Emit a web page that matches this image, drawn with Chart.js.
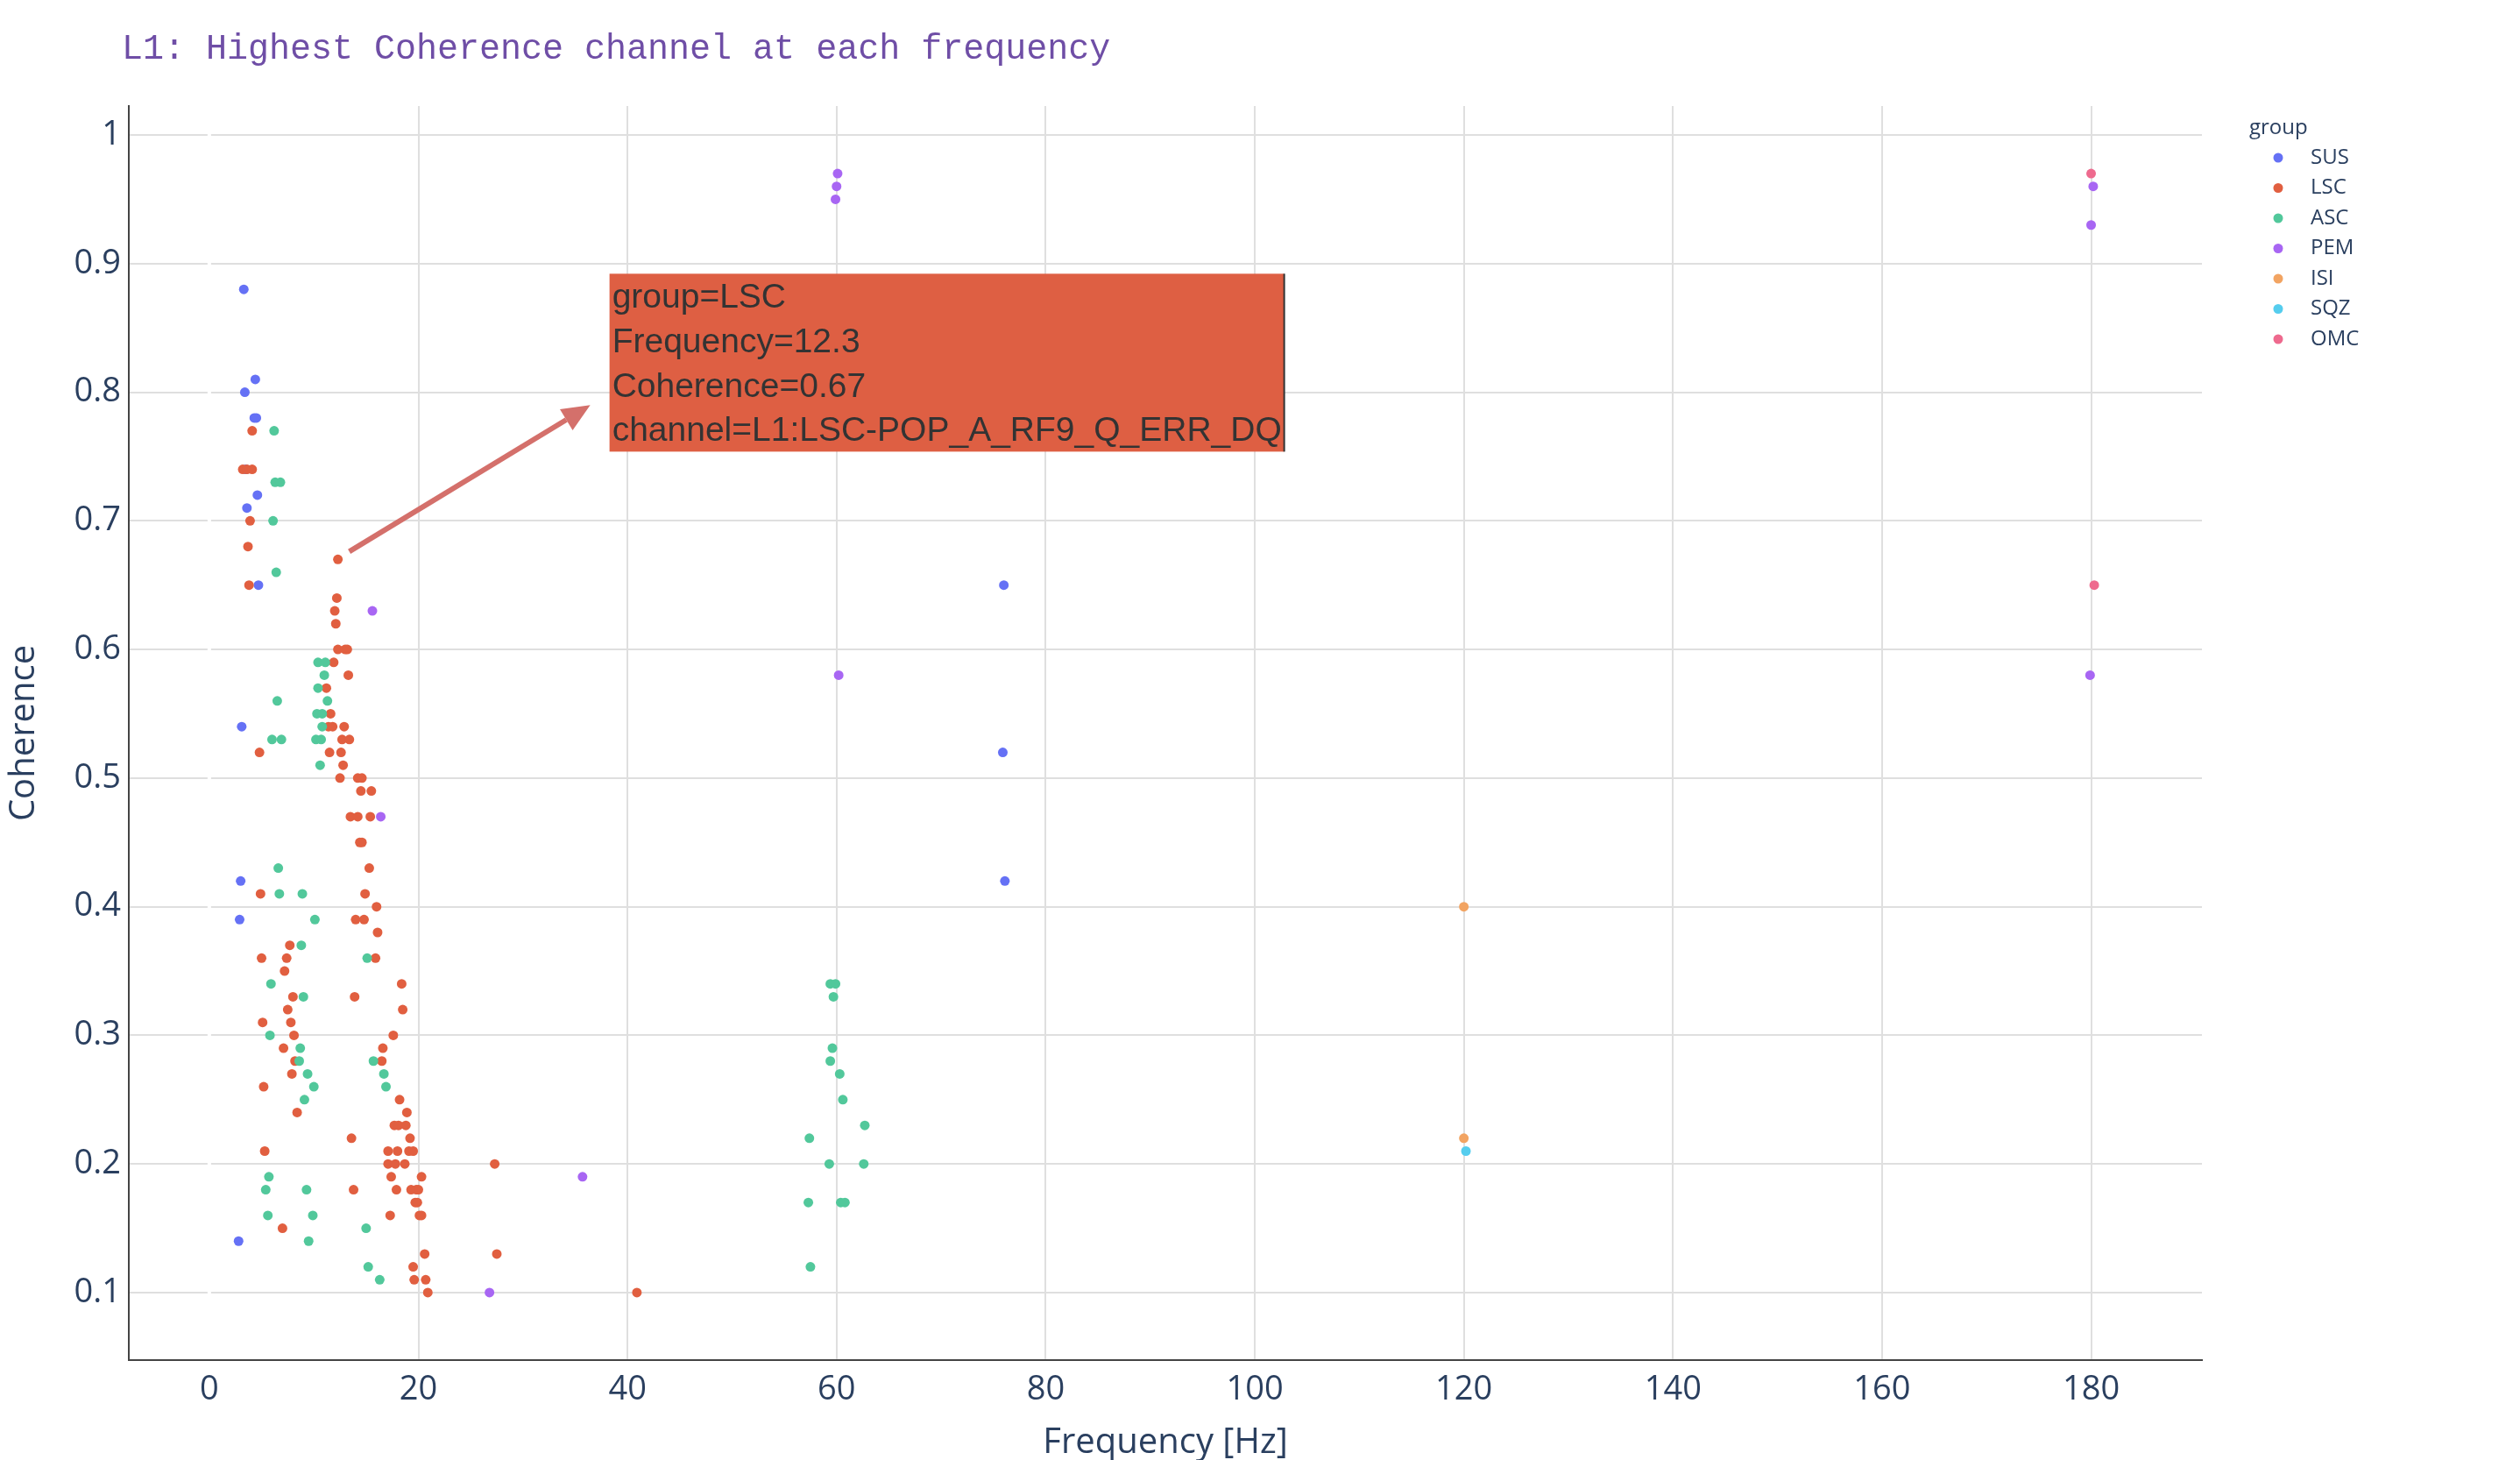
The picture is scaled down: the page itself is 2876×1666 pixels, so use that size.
<!DOCTYPE html>
<html>
<head>
<meta charset="utf-8">
<title>L1: Highest Coherence channel at each frequency</title>
<script src="https://cdn.jsdelivr.net/npm/chart.js@4.4.1/dist/chart.umd.min.js"></script>
<style>
    html, body { margin: 0; padding: 0; background: #fff; }
    #chart { display: block; }
</style>
</head>
<body>
<canvas id="chart" width="2876" height="1666"></canvas>
<script>
// 그룹 이름과 색
const groups = ['SUS', 'LSC', 'ASC', 'PEM', 'ISI', 'SQZ', 'OMC'];
const groupColors = ['#6571f5', '#e15f40', '#52c89b', '#a866f3', '#f2a462', '#55cdee', '#ee6a8e'];

// [Frequency, Coherence]
const susPoints = [
    [3.3, 0.88], [4.4, 0.81], [3.4, 0.80], [4.3, 0.78], [4.5, 0.78], [3.5, 0.74], [4.6, 0.72],
    [3.6, 0.71], [4.7, 0.65], [3.1, 0.54], [3.0, 0.42], [2.9, 0.39], [2.8, 0.14],
    [76.0, 0.65], [75.9, 0.52], [76.1, 0.42]
];
const lscPoints = [
    [4.1, 0.77], [3.2, 0.74], [3.6, 0.74], [4.1, 0.74], [3.9, 0.70], [3.7, 0.68], [12.3, 0.67],
    [3.8, 0.65], [12.2, 0.64], [12.0, 0.63], [12.1, 0.62], [12.3, 0.60], [13.0, 0.60], [13.2, 0.60],
    [11.9, 0.59], [13.3, 0.58], [11.2, 0.57], [11.6, 0.55], [11.4, 0.54], [11.8, 0.54], [12.9, 0.54],
    [12.7, 0.53], [13.4, 0.53], [4.8, 0.52], [11.5, 0.52], [12.6, 0.52], [12.8, 0.51], [12.5, 0.50],
    [14.2, 0.50], [14.6, 0.50], [14.5, 0.49], [15.5, 0.49], [13.5, 0.47], [14.2, 0.47], [15.4, 0.47],
    [14.4, 0.45], [14.6, 0.45], [15.3, 0.43], [4.9, 0.41], [14.9, 0.41], [16.0, 0.40], [14.0, 0.39],
    [14.8, 0.39], [16.1, 0.38], [7.7, 0.37], [5.0, 0.36], [7.4, 0.36], [15.9, 0.36], [7.2, 0.35],
    [18.4, 0.34], [8.0, 0.33], [13.9, 0.33], [7.5, 0.32], [18.5, 0.32], [5.1, 0.31], [7.8, 0.31],
    [8.1, 0.30], [17.6, 0.30], [7.1, 0.29], [16.6, 0.29], [8.2, 0.28], [16.5, 0.28], [7.9, 0.27],
    [5.2, 0.26], [18.2, 0.25], [8.4, 0.24], [18.9, 0.24], [17.7, 0.23], [18.1, 0.23], [18.8, 0.23],
    [13.6, 0.22], [19.2, 0.22], [5.3, 0.21], [17.1, 0.21], [18.0, 0.21], [19.1, 0.21], [19.5, 0.21],
    [17.1, 0.20], [17.8, 0.20], [18.7, 0.20], [17.4, 0.19], [20.3, 0.19], [13.8, 0.18], [17.9, 0.18],
    [19.3, 0.18], [19.8, 0.18], [20.0, 0.18], [19.7, 0.17], [19.9, 0.17], [17.3, 0.16], [20.1, 0.16],
    [20.3, 0.16], [7.0, 0.15], [20.6, 0.13], [19.5, 0.12], [19.6, 0.11], [20.7, 0.11], [20.9, 0.10],
    [27.3, 0.20], [27.5, 0.13], [40.9, 0.10]
];
const ascPoints = [
    [6.2, 0.77], [6.3, 0.73], [6.8, 0.73], [6.1, 0.70], [6.4, 0.66], [10.4, 0.59], [11.1, 0.59],
    [11.0, 0.58], [10.4, 0.57], [6.5, 0.56], [11.3, 0.56], [10.3, 0.55], [10.8, 0.55], [10.8, 0.54],
    [6.0, 0.53], [6.9, 0.53], [10.2, 0.53], [10.7, 0.53], [10.6, 0.51], [6.6, 0.43], [6.7, 0.41],
    [8.9, 0.41], [10.1, 0.39], [8.8, 0.37], [15.1, 0.36], [5.9, 0.34], [9.0, 0.33], [5.8, 0.30],
    [8.7, 0.29], [8.6, 0.28], [15.7, 0.28], [9.4, 0.27], [16.7, 0.27], [10.0, 0.26], [16.9, 0.26],
    [9.1, 0.25], [5.7, 0.19], [5.4, 0.18], [9.3, 0.18], [5.6, 0.16], [9.9, 0.16], [15.0, 0.15],
    [9.5, 0.14], [15.2, 0.12], [16.3, 0.11],
    [59.4, 0.34], [59.9, 0.34], [59.7, 0.33], [59.6, 0.29], [59.4, 0.28], [60.3, 0.27], [60.6, 0.25],
    [62.7, 0.23], [57.4, 0.22], [59.3, 0.20], [62.6, 0.20], [57.3, 0.17], [60.4, 0.17], [60.8, 0.17],
    [57.5, 0.12]
];
const pemPoints = [
    [15.6, 0.63], [16.4, 0.47], [26.8, 0.10], [35.7, 0.19], [60.1, 0.97], [60.0, 0.96], [59.9, 0.95],
    [60.2, 0.58], [180.2, 0.96], [180.0, 0.93], [179.9, 0.58]
];
const isiPoints = [[120.0, 0.40], [120.0, 0.22]];
const sqzPoints = [[120.2, 0.21]];
const omcPoints = [[180.0, 0.97], [180.3, 0.65]];

// 눈금
const xTicks = [0, 20, 40, 60, 80, 100, 120, 140, 160, 180];
const yTicks = [0.1, 0.2, 0.3, 0.4, 0.5, 0.6, 0.7, 0.8, 0.9, 1];

// 주석 (hover 박스처럼 보이는 것)
const annotationGroup = 'LSC';
const annotationPoint = [12.3, 0.67];
const annotationChannel = 'L1:LSC-POP_A_RF9_Q_ERR_DQ';

const titleText = 'L1: Highest Coherence channel at each frequency';
const fontFamily = '"Open Sans", "Liberation Sans", Arial, sans-serif';
const axisColor = '#2a3f5f';
const gridColor = '#dfdfdf';

const pointSets = [susPoints, lscPoints, ascPoints, pemPoints, isiPoints, sqzPoints, omcPoints];

const datasets = groups.map((g, i) => ({
    label: g,
    data: pointSets[i].map(p => ({ x: p[0], y: p[1] })),
    backgroundColor: groupColors[i],
    borderWidth: 0,
    pointRadius: 5.5,
    pointHoverRadius: 5.5,
    order: -i   // 뒤 그룹이 위에 그려지도록
}));

// 제목, 범례, 주석, 흰색 zero line
const overlayPlugin = {
    id: 'overlay',
    beforeDatasetsDraw(chart) {
        const { ctx, chartArea, scales } = chart;
        const x0 = scales.x.getPixelForValue(0);
        ctx.save();
        ctx.strokeStyle = '#ffffff';
        ctx.lineWidth = 4;
        ctx.beginPath();
        ctx.moveTo(x0, chartArea.top);
        ctx.lineTo(x0, chartArea.bottom - 2);
        ctx.stroke();
        ctx.restore();
    },
    afterDraw(chart) {
        const { ctx, scales } = chart;
        ctx.save();

        // 제목
        ctx.fillStyle = '#6f4ea6';
        ctx.font = '40px "Courier New", "Liberation Mono", monospace';
        ctx.textAlign = 'left';
        ctx.textBaseline = 'middle';
        ctx.fillText(titleText, 139, 56);

        // 범례
        ctx.fillStyle = axisColor;
        ctx.font = '24px ' + fontFamily;
        ctx.fillText('group', 2567, 146);
        groups.forEach((g, i) => {
            const y = 180 + i * 34.5;
            ctx.fillStyle = groupColors[i];
            ctx.beginPath();
            ctx.arc(2600, y, 5.5, 0, Math.PI * 2);
            ctx.fill();
            ctx.fillStyle = axisColor;
            ctx.fillText(g, 2637, y);
        });

        // 화살표
        const px = scales.x.getPixelForValue(annotationPoint[0]);
        const py = scales.y.getPixelForValue(annotationPoint[1]);
        const tail = { x: px + 13, y: py - 9 };
        const tip = { x: px + 288, y: py - 176 };
        const ang = Math.atan2(tip.y - tail.y, tip.x - tail.x);
        const headLen = 32, headW = 14;
        const base = { x: tip.x - headLen * Math.cos(ang), y: tip.y - headLen * Math.sin(ang) };
        ctx.strokeStyle = '#d4706b';
        ctx.fillStyle = '#d4706b';
        ctx.lineWidth = 6;
        ctx.beginPath();
        ctx.moveTo(tail.x, tail.y);
        ctx.lineTo(base.x, base.y);
        ctx.stroke();
        ctx.beginPath();
        ctx.moveTo(tip.x, tip.y);
        ctx.lineTo(base.x + headW * Math.sin(ang), base.y - headW * Math.cos(ang));
        ctx.lineTo(base.x - headW * Math.sin(ang), base.y + headW * Math.cos(ang));
        ctx.closePath();
        ctx.fill();

        // 박스
        const bx = px + 310, by = py - 326, bw = 770, bh = 203;
        ctx.fillStyle = '#de5f43';
        ctx.fillRect(bx, by, bw, bh);
        ctx.strokeStyle = '#333333';
        ctx.lineWidth = 2;
        ctx.beginPath();
        ctx.moveTo(bx + bw, by);
        ctx.lineTo(bx + bw, by + bh);
        ctx.stroke();

        const lines = [
            'group=' + annotationGroup,
            'Frequency=' + annotationPoint[0],
            'Coherence=' + annotationPoint[1],
            'channel=' + annotationChannel
        ];
        ctx.fillStyle = '#333333';
        ctx.font = '39px Arial, "Liberation Sans", sans-serif';
        lines.forEach((t, i) => ctx.fillText(t, bx + 3, by + 28 + i * 50.7));

        ctx.restore();
    }
};

const chart = new Chart(document.getElementById('chart').getContext('2d'), {
    type: 'scatter',
    data: { datasets: datasets },
    plugins: [overlayPlugin],
    options: {
        responsive: false,
        animation: false,
        devicePixelRatio: 1,
        events: [],
        layout: { padding: { left: 0, top: 121, right: 363, bottom: 0 } },
        plugins: {
            legend: { display: false },
            tooltip: { enabled: false },
            title: { display: false }
        },
        scales: {
            x: {
                type: 'linear',
                min: -7.7,
                max: 190.6,
                afterBuildTicks: s => { s.ticks = xTicks.map(v => ({ value: v })); },
                afterFit: s => { s.height = 114; },
                ticks: {
                    color: axisColor,
                    font: { family: fontFamily, size: 38 },
                    padding: 11,
                    maxRotation: 0,
                    autoSkip: false,
                    callback: v => String(v)
                },
                grid: {
                    color: c => (c.tick && c.tick.value === 0) ? 'rgba(0,0,0,0)' : gridColor,
                    lineWidth: 2,
                    drawTicks: false
                },
                border: { display: true, color: '#444', width: 2 },
                title: {
                    display: true,
                    text: 'Frequency [Hz]',
                    color: axisColor,
                    font: { family: fontFamily, size: 40, lineHeight: 0.95 },
                    padding: { top: 0, bottom: 0 }
                }
            },
            y: {
                type: 'linear',
                min: 0.0475,
                max: 1.0225,
                afterBuildTicks: s => { s.ticks = yTicks.map(v => ({ value: v })); },
                afterFit: s => { s.width = 147; },
                ticks: {
                    color: axisColor,
                    font: { family: fontFamily, size: 38 },
                    padding: 9,
                    autoSkip: false,
                    callback: v => String(v)
                },
                grid: { color: gridColor, lineWidth: 2, drawTicks: false },
                border: { display: true, color: '#444', width: 2 },
                title: {
                    display: true,
                    text: 'Coherence',
                    color: axisColor,
                    font: { family: fontFamily, size: 40 },
                    padding: { top: 4, bottom: 0 }
                }
            }
        }
    }
});
</script>
</body>
</html>
